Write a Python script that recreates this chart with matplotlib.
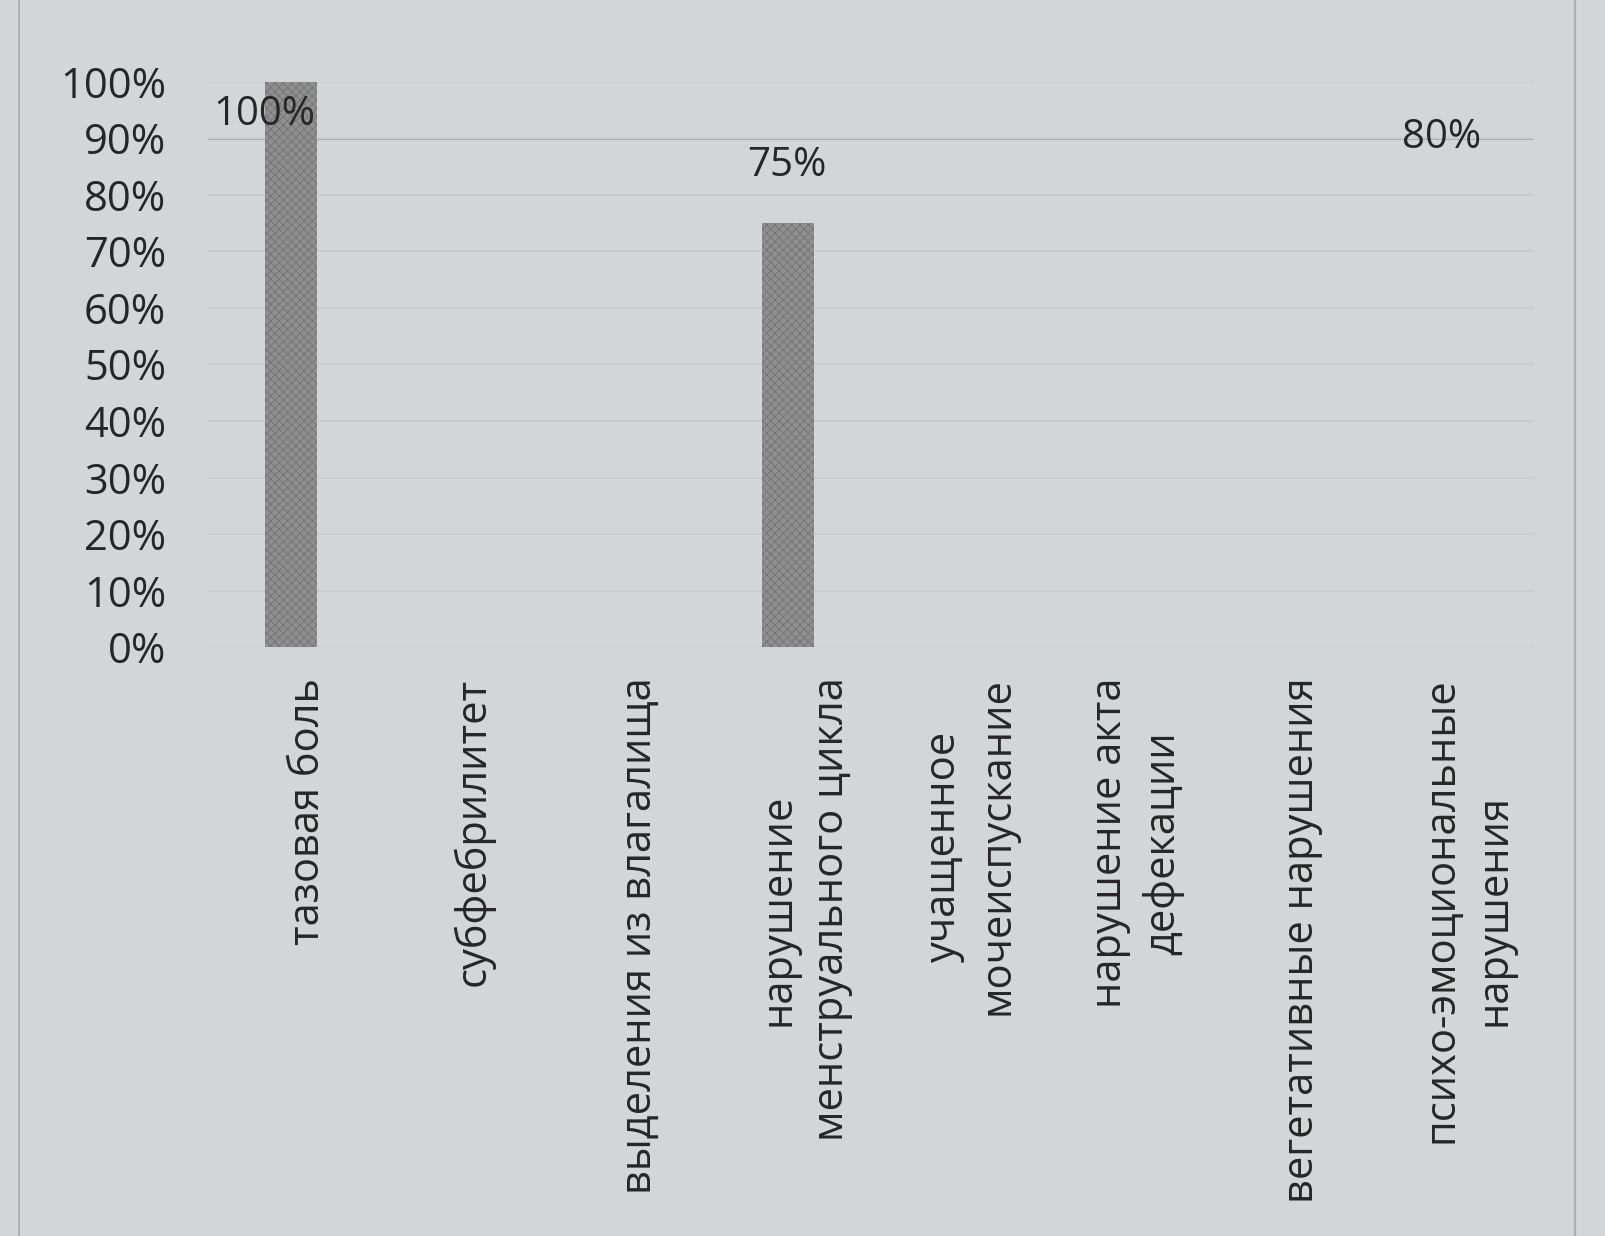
import numpy as np
import matplotlib
matplotlib.use("Agg")
import matplotlib.pyplot as plt
import matplotlib.transforms as mtransforms

plt.rcParams['font.family'] = ['Open Sans', 'DejaVu Sans']
plt.rcParams['hatch.linewidth'] = 0.6

# data
categories = ["тазовая боль", "субфебрилитет", "выделения из влагалища",
              "нарушение\nменструального цикла", "учащенное\nмочеиспускание",
              "нарушение акта\nдефекации", "вегетативные нарушения",
              "психо-эмоциональные\nнарушения"]
values = [100, 0, 0, 75, 0, 0, 0, 80]
labels = ["100%", "", "", "75%", "", "", "", "80%"]
yticks = [0, 10, 20, 30, 40, 50, 60, 70, 80, 90, 100]

bg = '#d3d6d6'
bar_col = '#8f8f8f'
# the last bar is washed out on the print, only its label remains
bar_colors = [bar_col] * 7 + [bg]
edge_colors = ['#737373'] * 7 + [bg]
txt = '#262626'

fig = plt.figure(figsize=(16.05, 12.36), dpi=100, facecolor=bg)
ax = fig.add_axes([0.1296, 0.4765, 0.8262, 0.4572])
ax.set_facecolor(bg)

x = np.arange(len(categories))
for i in range(len(x)):
    ax.bar(x[i], values[i], width=0.31, color=bar_colors[i],
           edgecolor=edge_colors[i], hatch='xxxx', linewidth=0,
           zorder=3 if i < 7 else 0.5)

# data labels
ax.text(x[0] - 0.16, values[0] - 5.8, labels[0], ha='center', va='center',
        fontsize=29, color=txt, zorder=4)
ax.text(x[3] - 0.01, values[3] + 10.2, labels[3], ha='center', va='center',
        fontsize=29, color=txt, zorder=4)
ax.text(x[7] - 0.06, values[7] + 10.2, labels[7], ha='center', va='center',
        fontsize=29, color=txt, zorder=4)

ax.set_xlim(-0.5, len(categories) - 0.5)
ax.set_ylim(0, 100)
ax.set_yticks(yticks)
ax.set_yticklabels([f"{t}%" for t in yticks], fontsize=30, color=txt)
ax.set_xticks(x)
ax.set_xticklabels(categories, rotation=90, fontsize=30, color=txt,
                   multialignment='center', linespacing=1.35)
ax.tick_params(axis='y', length=0, pad=30)
ax.tick_params(axis='x', length=0, pad=22)

# labels sit a little right of the bars on the print
shift = mtransforms.ScaledTranslation(0.17, 0, fig.dpi_scale_trans)
for lab in ax.get_xticklabels():
    lab.set_transform(lab.get_transform() + shift)

# gridlines mostly faded on the print
ax.yaxis.grid(True, color='#cbcece', linewidth=1.5, zorder=0)
ax.axhline(90, color='#a3a7a7', linewidth=2, zorder=1)

for s in ax.spines.values():
    s.set_visible(False)

# border of the chart area on the page
fig.add_artist(plt.Line2D([0.012, 0.012], [0.0, 1.0], color='#aeb1b1', lw=1.5))
fig.add_artist(plt.Line2D([0.981, 0.981], [0.0, 1.0], color='#aeb1b1', lw=1.5))

fig.savefig("out.png", dpi=100, facecolor=bg)
